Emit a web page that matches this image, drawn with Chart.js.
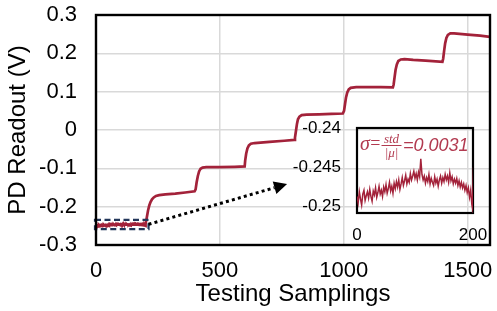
<!DOCTYPE html>
<html><head><meta charset="utf-8">
<script src="https://cdn.jsdelivr.net/npm/chart.js@4.4.0/dist/chart.umd.min.js"></script>
<style>
html,body{margin:0;padding:0;background:#fff;}
#wrap{position:relative;width:497px;height:311px;overflow:hidden;}
#main{position:absolute;left:0;top:0;width:497px;height:311px;}
#inset{position:absolute;left:280px;top:110px;width:210px;height:140px;}
</style></head><body>
<div id="wrap"><canvas id="main" width="497" height="311"></canvas><canvas id="inset" width="210" height="140"></canvas></div>
<script>
// ---- data ----
// first 200 samples (baseline, every 2nd sample)
const baseX = [0,2,4,6,8,10,12,14,16,18,20,22,24,26,28,30,32,34,36,38,40,42,44,46,48,50,52,54,56,58,60,62,64,66,68,70,72,74,76,78,80,82,84,86,88,90,92,94,96,98,100,102,104,106,108,110,112,114,116,118,120,122,124,126,128,130,132,134,136,138,140,142,144,146,148,150,152,154,156,158,160,162,164,166,168,170,172,174,176,178,180,182,184,186,188,190,192,194,196,198,199];
const baseY = [-0.2487,-0.2495,-0.2481,-0.2490,-0.2498,-0.2484,-0.2479,-0.2492,-0.2486,-0.2481,
  -0.2489,-0.2478,-0.2487,-0.2493,-0.2480,-0.2485,-0.2476,-0.2488,-0.2482,-0.2474,
  -0.2484,-0.2479,-0.2487,-0.2475,-0.2481,-0.2472,-0.2483,-0.2477,-0.2469,-0.2480,
  -0.2474,-0.2483,-0.2470,-0.2477,-0.2468,-0.2475,-0.2466,-0.2478,-0.2471,-0.2463,
  -0.2473,-0.2467,-0.2460,-0.2471,-0.2465,-0.2469,-0.2458,-0.2466,-0.2461,-0.2455,
  -0.2464,-0.2458,-0.2466,-0.2456,-0.2462,-0.2439,-0.2459,-0.2466,-0.2461,-0.2470,
  -0.2463,-0.2468,-0.2459,-0.2471,-0.2464,-0.2469,-0.2473,-0.2462,-0.2470,-0.2465,
  -0.2474,-0.2466,-0.2461,-0.2470,-0.2463,-0.2468,-0.2459,-0.2466,-0.2461,-0.2469,
  -0.2457,-0.2467,-0.2462,-0.2471,-0.2465,-0.2470,-0.2464,-0.2473,-0.2467,-0.2475,
  -0.2469,-0.2476,-0.2471,-0.2479,-0.2473,-0.2482,-0.2476,-0.2488,-0.2479,-0.2497,-0.2501];
// the staircase after sample 200
const stepX = [201,205,210,215,220,226,233,242,255,280,320,360,398,
  402,406,411,416,422,430,445,500,560,600,
  602,606,611,617,625,640,700,760,800,
  803,807,811,815,821,830,850,900,950,996,
  1001,1005,1009,1014,1020,1028,1050,1100,1150,1198,
  1201,1205,1209,1214,1220,1230,1245,1280,1330,1398,
  1401,1405,1409,1414,1420,1430,1445,1500,1550,1590];
const stepY = [-0.245,-0.228,-0.210,-0.197,-0.188,-0.181,-0.176,-0.172,-0.170,-0.168,-0.166,-0.163,-0.160,
  -0.155,-0.137,-0.120,-0.108,-0.101,-0.098,-0.097,-0.097,-0.096,-0.095,
  -0.080,-0.062,-0.048,-0.040,-0.036,-0.034,-0.031,-0.028,-0.026,
  -0.020,-0.002,0.016,0.028,0.035,0.039,0.040,0.041,0.042,0.043,
  0.050,0.068,0.085,0.098,0.106,0.110,0.112,0.112,0.112,0.111,
  0.118,0.138,0.157,0.171,0.180,0.184,0.185,0.183,0.181,0.178,
  0.186,0.207,0.226,0.240,0.248,0.252,0.252,0.249,0.246,0.243];
const xTicks = [0,500,1000,1500];
const yTicks = [-0.3,-0.2,-0.1,0,0.1,0.2,0.3];
const insetXTicks = [0,200];
const insetYTicks = [-0.25,-0.245,-0.24];
const sigmaValue = '0.0031';

// ---- styles ----
const LINE = '#A3223A';
const TEXTRED = '#B23A50';
const NAVY = '#22365A';
const SANS = "'Liberation Sans', Arial, sans-serif";
const SERIF = "'Liberation Serif', 'Times New Roman', serif";
const CLEAR = 'rgba(0,0,0,0)';

const mainPoints = baseX.map((x,i)=>({x:x,y:baseY[i]})).concat(stepX.map((x,i)=>({x:x,y:stepY[i]})));
const insetPoints = mainPoints.filter(p=>p.x<=215);

const mainPlugin = {
  id:'mainDeco',
  afterDatasetsDraw(chart){
    const {ctx, chartArea:a, scales:{x,y}} = chart;
    ctx.save();
    // dashed box around first 200 samples
    ctx.strokeStyle = NAVY; ctx.lineWidth = 2.2; ctx.setLineDash([6,3.5]);
    const bx0 = x.getPixelForValue(0)-1, bx1 = x.getPixelForValue(212);
    const by0 = y.getPixelForValue(-0.2345), by1 = y.getPixelForValue(-0.2585);
    ctx.strokeRect(bx0, by0, bx1-bx0, by1-by0);
    // dotted arrow towards the inset
    const sx = x.getPixelForValue(212), sy = y.getPixelForValue(-0.246);
    const ex = x.getPixelForValue(771), ey = y.getPixelForValue(-0.141);
    const ang = Math.atan2(ey-sy, ex-sx);
    const hl = 13, hw = 6.5;
    const lx = ex - hl*Math.cos(ang), ly = ey - hl*Math.sin(ang);
    ctx.strokeStyle = '#000'; ctx.lineWidth = 3; ctx.setLineDash([3,3.2]);
    ctx.beginPath(); ctx.moveTo(sx, sy); ctx.lineTo(lx, ly); ctx.stroke();
    ctx.setLineDash([]);
    ctx.fillStyle = '#000';
    ctx.beginPath();
    ctx.moveTo(ex, ey);
    ctx.lineTo(lx + hw*Math.sin(ang), ly - hw*Math.cos(ang));
    ctx.lineTo(lx - hw*Math.sin(ang), ly + hw*Math.cos(ang));
    ctx.closePath(); ctx.fill();
    // plot frame
    ctx.strokeStyle = '#000'; ctx.lineWidth = 2.4;
    ctx.strokeRect(a.left, a.top, a.right-a.left, a.bottom-a.top);
    ctx.restore();
  }
};

new Chart(document.getElementById('main'), {
  type:'line',
  data:{datasets:[{data:mainPoints, borderColor:LINE, borderWidth:2.7, pointRadius:0, tension:0, fill:false}]},
  options:{
    responsive:false, animation:false, events:[],
    plugins:{legend:{display:false}, tooltip:{enabled:false}},
    layout:{padding:{left:0, right:7, top:15, bottom:0}},
    scales:{
      x:{type:'linear', min:0, max:1590,
        afterBuildTicks:s=>{s.ticks = xTicks.map(v=>({value:v}));},
        afterFit:s=>{s.height = 66;},
        ticks:{font:{family:SANS, size:22}, color:'#000', padding:0, maxRotation:0, autoSkip:false, callback:v=>String(v)},
        grid:{color:'#d9d9d9', lineWidth:1.5, drawTicks:true, tickLength:13, tickColor:CLEAR},
        border:{display:false},
        title:{display:true, text:'Testing Samplings', color:'#000', font:{family:SANS, size:24}, padding:{top:0, bottom:2}}
      },
      y:{type:'linear', min:-0.3, max:0.3,
        afterBuildTicks:s=>{s.ticks = yTicks.map(v=>({value:v}));},
        afterFit:s=>{s.width = 96;},
        ticks:{font:{family:SANS, size:22}, color:'#000', padding:0, autoSkip:false, callback:v=>String(v)},
        grid:{color:'#d9d9d9', lineWidth:1.5, drawTicks:true, tickLength:19, tickColor:CLEAR},
        border:{display:false},
        title:{display:true, text:'PD Readout (V)', color:'#000', font:{family:SANS, size:24}, padding:{top:4, bottom:0}}
      }
    }
  },
  plugins:[mainPlugin]
});

const insetPlugin = {
  id:'insetDeco',
  beforeDatasetsDraw(chart){
    const {ctx, chartArea:a} = chart;
    ctx.save();
    ctx.strokeStyle = '#000'; ctx.lineWidth = 2.2;
    ctx.strokeRect(a.left, a.top, a.right-a.left, a.bottom-a.top);
    ctx.restore();
  },
  afterDraw(chart){
    const {ctx, chartArea:a} = chart;
    ctx.save();
    ctx.fillStyle = TEXTRED; ctx.strokeStyle = TEXTRED;
    ctx.textBaseline = 'alphabetic'; ctx.textAlign = 'left';
    let cx = a.left + 3;
    const base = a.top + 22;
    ctx.font = 'italic 20px ' + SERIF;
    ctx.fillText('\u03C3', cx, base); cx += ctx.measureText('\u03C3').width + 0.5;
    ctx.font = '18px ' + SERIF;
    ctx.fillText('=', cx, base - 1); cx += ctx.measureText('=').width + 1;
    ctx.font = 'italic 13px ' + SERIF;
    const fw = 20;
    ctx.textAlign = 'center';
    ctx.fillText('std', cx + fw/2, base - 7);
    ctx.fillText('|\u03BC|', cx + fw/2, base + 7);
    ctx.lineWidth = 1; ctx.beginPath(); ctx.moveTo(cx, base - 4.5); ctx.lineTo(cx + fw, base - 4.5); ctx.stroke();
    cx += fw + 1.5;
    ctx.textAlign = 'left';
    ctx.font = 'italic 18px ' + SANS;
    ctx.fillText('=' + sigmaValue, cx, base + 0.5);
    ctx.restore();
  }
};

new Chart(document.getElementById('inset'), {
  type:'line',
  data:{datasets:[{data:insetPoints, borderColor:LINE, borderWidth:1.5, pointRadius:0, tension:0, fill:false}]},
  options:{
    responsive:false, animation:false, events:[],
    plugins:{legend:{display:false}, tooltip:{enabled:false}},
    layout:{padding:{left:0, right:17, top:18, bottom:0}},
    scales:{
      x:{type:'linear', min:0, max:200,
        afterBuildTicks:s=>{s.ticks = insetXTicks.map(v=>({value:v}));},
        afterFit:s=>{s.height = 37;},
        ticks:{font:{family:SANS, size:17}, color:'#000', padding:0, maxRotation:0, autoSkip:false},
        grid:{display:true, drawOnChartArea:false, drawTicks:true, tickLength:12, tickColor:CLEAR, color:CLEAR}, border:{display:false}
      },
      y:{type:'linear', min:-0.2508, max:-0.24,
        afterBuildTicks:s=>{s.ticks = insetYTicks.map(v=>({value:v}));},
        afterFit:s=>{s.width = 77;},
        ticks:{font:{family:SANS, size:17}, color:'#000', padding:0, autoSkip:false, callback:v=>String(v)},
        grid:{display:true, drawOnChartArea:false, drawTicks:true, tickLength:16, tickColor:CLEAR, color:CLEAR}, border:{display:false}
      }
    }
  },
  plugins:[insetPlugin]
});
</script>
</body></html>
